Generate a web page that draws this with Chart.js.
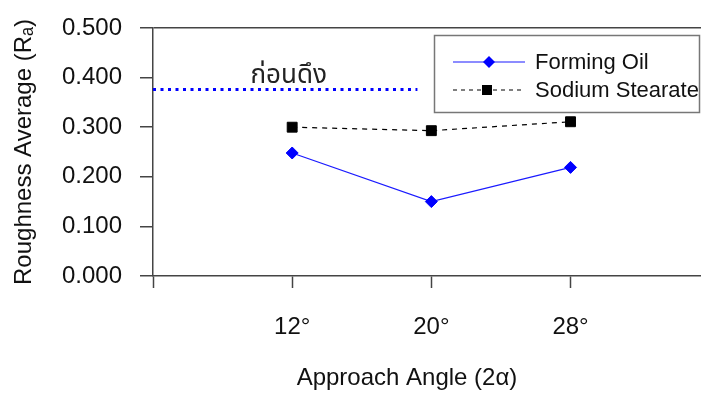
<!DOCTYPE html>
<html><head><meta charset="utf-8">
<script src="https://cdn.jsdelivr.net/npm/chart.js@4.4.1/dist/chart.umd.min.js"></script>
<style>html,body{margin:0;padding:0;background:#fff;} canvas{display:block;}</style>
</head><body>
<canvas id="c" width="701" height="396"></canvas>
<script>
// ---- data ----
const angles = [12, 20, 28];
const angleTickLabels = ['12°', '20°', '28°'];
const formingOil = [0.248, 0.150, 0.219];
const sodiumStearate = [0.300, 0.293, 0.311];
const beforeDrawingValue = 0.376;
const beforeDrawingSpan = [4, 19.2];
const seriesNames = ['Forming Oil', 'Sodium Stearate'];
const beforeDrawingLabel = 'ก่อนดึง';
const yTicks = [0, 0.1, 0.2, 0.3, 0.4, 0.5];
const yTitle = 'Roughness Average (Rₐ)';
const xTitle = 'Approach Angle (2α)';

const FONT = '"Liberation Sans", Arial, sans-serif';
const AXIS = '#444';
const BLUE = '#1a1aff';

const toPts = (vals) => angles.map((a, i) => ({x: a, y: vals[i]}));

const overlay = {
  id: 'overlay',
  afterDraw(chart) {
    const ctx = chart.ctx;
    const xs = chart.scales.x, ys = chart.scales.y;
    ctx.save();
    // label above the dotted reference line
    ctx.font = '26px "Noto Sans Thai", "Noto Sans", "DejaVu Sans", sans-serif';
    ctx.fillStyle = '#222';
    ctx.textAlign = 'left';
    ctx.textBaseline = 'alphabetic';
    ctx.fillText(beforeDrawingLabel, xs.getPixelForValue(9.6), ys.getPixelForValue(0.389));

    // legend box
    const bx = 434, by = 35, bw = 266, bh = 78;
    ctx.fillStyle = '#fff';
    ctx.fillRect(bx, by, bw, bh);
    ctx.strokeStyle = '#777';
    ctx.lineWidth = 1.5;
    ctx.strokeRect(bx + 0.5, by + 0.5, bw - 1, bh - 1);

    const rows = [62, 90];
    // row 1 : forming oil
    ctx.strokeStyle = BLUE; ctx.lineWidth = 1.2; ctx.setLineDash([]);
    ctx.beginPath(); ctx.moveTo(453, rows[0]); ctx.lineTo(525, rows[0]); ctx.stroke();
    ctx.fillStyle = '#0000ff';
    ctx.beginPath();
    ctx.moveTo(489 - 6, rows[0]); ctx.lineTo(489, rows[0] - 6); ctx.lineTo(489 + 6, rows[0]); ctx.lineTo(489, rows[0] + 6);
    ctx.closePath(); ctx.fill();
    // row 2 : sodium stearate
    ctx.strokeStyle = '#000'; ctx.lineWidth = 1.2; ctx.setLineDash([4, 4]);
    ctx.beginPath(); ctx.moveTo(453, rows[1]); ctx.lineTo(525, rows[1]); ctx.stroke();
    ctx.setLineDash([]);
    ctx.fillStyle = '#000';
    ctx.fillRect(487 - 5, rows[1] - 5, 10, 10);

    ctx.font = '22px ' + FONT;
    ctx.fillStyle = '#111';
    ctx.textBaseline = 'middle';
    ctx.fillText(seriesNames[0], 535, rows[0] + 1);
    ctx.fillText(seriesNames[1], 535, rows[1] + 1);
    ctx.restore();
  }
};

new Chart(document.getElementById('c'), {
  type: 'line',
  data: {
    datasets: [
      {
        label: 'before',
        data: beforeDrawingSpan.map(x => ({x, y: beforeDrawingValue})),
        borderColor: '#0000ff',
        borderWidth: 3,
        borderDash: [3, 4.5],
        pointRadius: 0,
        fill: false
      },
      {
        label: seriesNames[1],
        data: toPts(sodiumStearate),
        borderColor: '#000',
        borderWidth: 1.2,
        borderDash: [5, 5],
        pointStyle: 'rect',
        pointRadius: 7,
        pointBorderWidth: 1,
        pointBackgroundColor: '#000',
        pointBorderColor: '#000',
        fill: false
      },
      {
        label: seriesNames[0],
        data: toPts(formingOil),
        borderColor: BLUE,
        borderWidth: 1.2,
        pointStyle: 'rectRot',
        pointRadius: 6,
        pointBorderWidth: 1,
        pointBackgroundColor: '#0000ff',
        pointBorderColor: '#0000ff',
        fill: false
      }
    ]
  },
  options: {
    responsive: false,
    animation: false,
    events: [],
    layout: {autoPadding: false, padding: {top: 28, left: 0, right: 0, bottom: 0}},
    plugins: {legend: {display: false}, tooltip: {enabled: false}},
    scales: {
      x: {
        type: 'linear',
        min: 4,
        max: 35.5,
        afterBuildTicks: (s) => { s.ticks = [4].concat(angles).map(v => ({value: v})); },
        afterFit: (s) => { s.height = 120; s.paddingLeft = 0; s.paddingRight = 0; },
        ticks: {
          autoSkip: false,
          maxRotation: 0,
          padding: 25,
          color: '#111',
          font: {family: FONT, size: 24},
          callback: (v) => { const i = angles.indexOf(v); return i < 0 ? '' : angleTickLabels[i]; }
        },
        grid: {drawOnChartArea: false, drawTicks: true, tickLength: 12, tickColor: AXIS, tickWidth: 1.5},
        border: {display: true, color: AXIS, width: 1.5},
        title: {
          display: true,
          text: xTitle + '\u00a0\u00a0\u00a0\u00a0\u00a0\u00a0',
          color: '#111',
          font: {family: FONT, size: 24},
          padding: {top: 0, bottom: 3}
        }
      },
      y: {
        min: 0,
        max: 0.5,
        afterBuildTicks: (s) => { s.ticks = yTicks.map(v => ({value: v})); },
        afterFit: (s) => { s.width = 153; s.paddingTop = 0; s.paddingBottom = 0; },
        ticks: {
          padding: 18,
          color: '#111',
          font: {family: FONT, size: 24},
          callback: (v) => Number(v).toFixed(3)
        },
        grid: {
          drawOnChartArea: true,
          drawTicks: true,
          tickLength: 13,
          tickColor: AXIS,
          tickWidth: 1.5,
          lineWidth: 1.5,
          color: (c) => (c.tick && Math.abs(c.tick.value - 0.5) < 1e-9) ? AXIS : 'rgba(0,0,0,0)'
        },
        border: {display: true, color: AXIS, width: 1.5},
        title: {
          display: true,
          text: yTitle,
          color: '#111',
          font: {family: FONT, size: 24},
          padding: {top: 10, bottom: 0}
        }
      }
    }
  },
  plugins: [overlay]
});
</script>
</body></html>
